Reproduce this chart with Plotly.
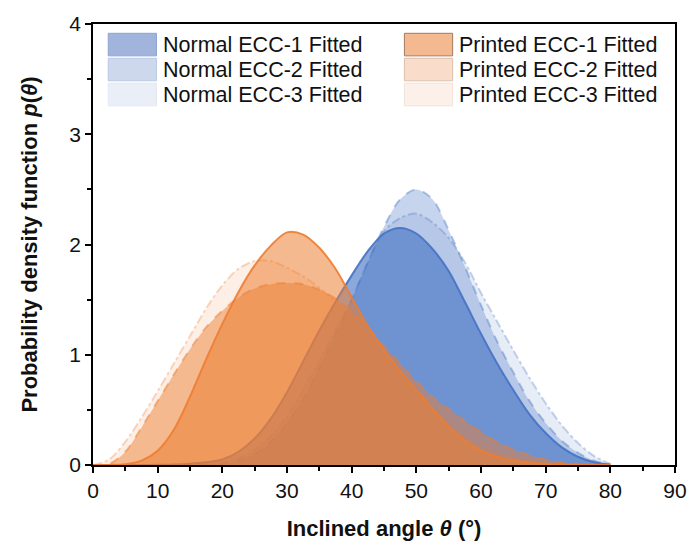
import plotly.graph_objects as go

# ---- data ----
theta = [0, 2.5, 5, 7.5, 10, 12.5, 15, 17.5, 20, 22.5, 25, 27.5, 30, 32.5, 35, 37.5,
         40, 42.5, 45, 47.5, 50, 52.5, 55, 57.5, 60, 62.5, 65, 67.5, 70, 72.5, 75, 77.5, 80]

normal_ecc1 = [0, 0, 0, 0, 0.002, 0.005, 0.012, 0.025, 0.05, 0.12, 0.24, 0.42, 0.66, 0.94, 1.22, 1.48,
               1.72, 1.94, 2.10, 2.15, 2.10, 1.96, 1.76, 1.48, 1.19, 0.92, 0.68, 0.46, 0.29, 0.16, 0.075, 0.025, 0.004]
normal_ecc2 = [0, 0, 0, 0, 0, 0, 0, 0.005, 0.01, 0.04, 0.10, 0.21, 0.38, 0.60, 0.88, 1.18,
               1.50, 1.84, 2.16, 2.41, 2.50, 2.41, 2.13, 1.80, 1.45, 1.12, 0.84, 0.58, 0.38, 0.22, 0.11, 0.04, 0.006]
normal_ecc3 = [0, 0, 0, 0, 0, 0, 0, 0.005, 0.02, 0.06, 0.14, 0.26, 0.44, 0.68, 0.94, 1.22,
               1.50, 1.84, 2.12, 2.24, 2.28, 2.20, 2.06, 1.84, 1.56, 1.30, 1.04, 0.79, 0.56, 0.36, 0.20, 0.08, 0.01]

printed_ecc1 = [0, 0.001, 0.008, 0.04, 0.13, 0.32, 0.62, 0.96, 1.28, 1.57, 1.81, 1.99, 2.11, 2.09, 1.97, 1.78,
                1.52, 1.26, 1.04, 0.85, 0.68, 0.51, 0.35, 0.22, 0.13, 0.075, 0.04, 0.02, 0.01, 0.005, 0.002, 0.001, 0]
printed_ecc2 = [0, 0.01, 0.12, 0.34, 0.58, 0.82, 1.05, 1.25, 1.40, 1.52, 1.60, 1.64, 1.65, 1.64, 1.59, 1.51,
                1.40, 1.25, 1.08, 0.92, 0.76, 0.62, 0.51, 0.40, 0.30, 0.21, 0.14, 0.09, 0.05, 0.025, 0.01, 0.004, 0]
printed_ecc3 = [0, 0.05, 0.21, 0.43, 0.67, 0.92, 1.17, 1.42, 1.63, 1.78, 1.85, 1.85, 1.79, 1.71, 1.61, 1.48,
                1.32, 1.15, 0.98, 0.80, 0.64, 0.49, 0.36, 0.25, 0.16, 0.10, 0.06, 0.03, 0.015, 0.006, 0.002, 0, 0]

legend_names = ["Normal ECC-1 Fitted", "Normal ECC-2 Fitted", "Normal ECC-3 Fitted",
                "Printed ECC-1 Fitted", "Printed ECC-2 Fitted", "Printed ECC-3 Fitted"]

x_ticks = [0, 10, 20, 30, 40, 50, 60, 70, 80, 90]
y_ticks = [0, 1, 2, 3, 4]

# ---- styles ----
BLUE = (68, 114, 196)
ORANGE = (237, 125, 49)

def rgba(c, a):
    return f"rgba({c[0]},{c[1]},{c[2]},{a})"

series = [
    (normal_ecc3, BLUE, 0.13, 0.30, "dashdot"),
    (normal_ecc2, BLUE, 0.30, 0.40, "dash"),
    (normal_ecc1, BLUE, 0.62, 0.90, "solid"),
    (printed_ecc3, ORANGE, 0.12, 0.30, "dashdot"),
    (printed_ecc2, ORANGE, 0.48, 0.50, "dash"),
    (printed_ecc1, ORANGE, 0.54, 0.90, "solid"),
]

fig = go.Figure()
for ys, col, fa, la, dash in series:
    fig.add_trace(go.Scatter(
        x=theta, y=ys, mode="lines", line_shape="spline", line_smoothing=0.9,
        fill="tozeroy", fillcolor=rgba(col, fa),
        line=dict(color=rgba(col, la), width=2, dash=dash),
        showlegend=False, hoverinfo="skip"))

# ---- legend (drawn manually to mimic the boxed swatches) ----
L, R, T, B = 92.5, 684.0, 18.0, 468.0
W, H = R - L, B - T
def px(x):
    return (x - L) / W
def py(y):
    return (B - y) / H

legend_fill = ["#a0b4dc", "#cdd8ed", "#e9eef7", "#f4b991", "#f9dcca", "#fcf0ea"]
legend_line = ["#8ea4d0", "#b9c8e6", "#e3e9f4", "#a57a60", "#dcbfad", "#f1e2d9"]
row_c = [39, 64.5, 90]
col_x = [(108, 157, 162), (409, 458, 462)]
shapes = []
annotations = []
for i, name in enumerate(legend_names):
    cx0, cx1, tx = col_x[i // 3]
    yc = row_c[i % 3]
    shapes.append(dict(type="rect", xref="paper", yref="paper",
                       x0=px(cx0), x1=px(cx1), y0=py(yc + 11.5), y1=py(yc - 11.5),
                       fillcolor=legend_fill[i], line=dict(color=legend_line[i], width=1)))
    annotations.append(dict(xref="paper", yref="paper", x=px(tx), y=py(yc),
                            xanchor="left", yanchor="middle", showarrow=False,
                            text=name, font=dict(family="Liberation Sans, Arial", size=21.5, color="#111")))

fig.update_layout(
    width=699, height=549,
    margin=dict(l=L, r=699 - R, t=T, b=549 - B),
    paper_bgcolor="white", plot_bgcolor="white",
    shapes=shapes, annotations=annotations,
    font=dict(family="Liberation Sans, Arial", color="#111"),
)
fig.update_xaxes(
    range=[0, 90], tickvals=x_ticks, ticks="outside", ticklen=6, tickwidth=1.5,
    tickcolor="black", showline=True, linecolor="black", linewidth=1.5, mirror=True,
    showgrid=False, zeroline=False, tickfont=dict(size=21, color="#111"),
    minor=dict(dtick=5, tick0=0, ticks="outside", ticklen=4, tickwidth=1.5, tickcolor="black"),
    title=dict(text="<b>Inclined angle <i>θ</i> (°)</b>", font=dict(size=22, color="#111"), standoff=20),
)
fig.update_yaxes(
    range=[0, 4], tickvals=y_ticks, ticks="outside", ticklen=6, tickwidth=1.5,
    tickcolor="black", showline=True, linecolor="black", linewidth=1.5, mirror=True,
    showgrid=False, zeroline=False, tickfont=dict(size=21, color="#111"),
    minor=dict(dtick=0.5, tick0=0, ticks="outside", ticklen=4, tickwidth=1.5, tickcolor="black"),
    title=dict(text="<b>Probability density function <i>p</i>(<i>θ</i>)</b>", font=dict(size=22, color="#111"), standoff=26),
)

fig.write_html("out.html")
